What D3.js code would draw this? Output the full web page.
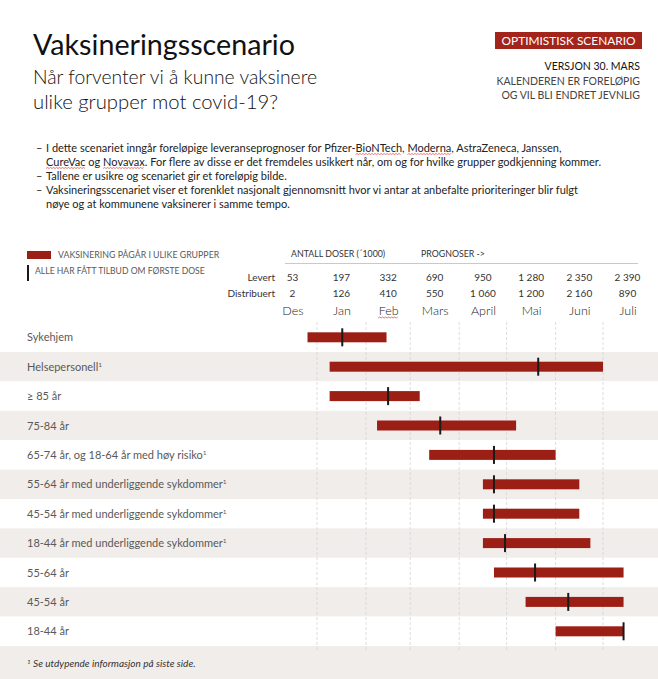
<!DOCTYPE html>
<html>
<head>
<meta charset="utf-8">
<script src="https://cdn.jsdelivr.net/npm/d3@7"></script>
<style>
  html, body { margin: 0; padding: 0; background: #fff; }
  svg { display: block; font-family: Lato, "Open Sans", sans-serif; }
</style>
</head>
<body>
<div id="chart"></div>
<script>
// ---------- data ----------
const months = ["Des", "Jan", "Feb", "Mars", "April", "Mai", "Juni", "Juli"];
const monthStarts = ["2020-12-01", "2021-01-01", "2021-02-01", "2021-03-01", "2021-04-01", "2021-05-01", "2021-06-01", "2021-07-01"];
const levert = ["53", "197", "332", "690", "950", "1 280", "2 350", "2 390"];
const distribuert = ["2", "126", "410", "550", "1 060", "1 200", "2 160", "890"];

const groups = ["Sykehjem", "Helsepersonell", "≥ 85 år", "75-84 år", "65-74 år, og 18-64 år med høy risiko",
  "55-64 år med underliggende sykdommer", "45-54 år med underliggende sykdommer",
  "18-44 år med underliggende sykdommer", "55-64 år", "45-54 år", "18-44 år"];
const footnoted = [false, true, false, false, true, true, true, true, false, false, false];
const startDates = ["2020-12-26", "2021-01-09", "2021-01-09", "2021-02-08", "2021-03-13", "2021-04-16", "2021-04-16", "2021-04-16", "2021-04-23", "2021-05-13", "2021-06-01"];
const endDates   = ["2021-02-14", "2021-07-01", "2021-03-07", "2021-05-07", "2021-06-01", "2021-06-16", "2021-06-16", "2021-06-23", "2021-07-14", "2021-07-14", "2021-07-14"];
const offerDates = ["2021-01-17", "2021-05-21", "2021-02-15", "2021-03-20", "2021-04-23", "2021-04-23", "2021-04-23", "2021-04-30", "2021-05-19", "2021-06-09", "2021-07-14"];

// bullet lines; words in {braces} carry a spell-check underline in the source
const bullets = [
  ["I dette scenariet inngår foreløpige leveranseprognoser for Pfizer-{BioNTech}, {Moderna}, AstraZeneca, Janssen,",
   "{CureVac} og {Novavax}. For flere av disse er det fremdeles usikkert når, om og for hvilke grupper godkjenning kommer."],
  ["Tallene er usikre og scenariet gir et foreløpig bilde."],
  ["Vaksineringsscenariet viser et forenklet nasjonalt gjennomsnitt hvor vi antar at anbefalte prioriteringer blir fulgt",
   "nøye og at kommunene vaksinerer i samme tempo."]
];

// ---------- setup ----------
const W = 658, H = 679;
const RED = "#9c1f16", TXT = "#595959", DARK = "#1a1a1a";
const parse = d3.timeParse("%Y-%m-%d");

const svg = d3.select("#chart").append("svg").attr("width", W).attr("height", H);

const x = d3.scaleTime()
  .domain([parse("2020-12-01"), parse("2021-08-01")])
  .range([268, 652]);

const y = d3.scaleBand().domain(groups).range([322.6, 646]).paddingInner(0).paddingOuter(0);

function squiggle(x0, x1, yb) {
  let p = `M${x0},${yb}`;
  let up = true;
  for (let xx = x0 + 1.5; xx <= x1; xx += 1.5) { p += `L${xx},${yb + (up ? -1 : 0)}`; up = !up; }
  svg.append("path").attr("d", p).attr("fill", "none").attr("stroke", "#e03c3c").attr("stroke-width", 0.7);
}

// ---------- titles ----------
svg.append("text").attr("x", 33).attr("y", 55).attr("font-size", 29).attr("font-weight", 400).attr("fill", "#111")
  .attr("textLength", 262).attr("lengthAdjust", "spacingAndGlyphs").text("Vaksineringsscenario");
svg.append("text").attr("x", 33).attr("y", 84).attr("font-size", 20).attr("font-weight", 300).attr("fill", "#111")
  .attr("textLength", 284).attr("lengthAdjust", "spacingAndGlyphs").text("Når forventer vi å kunne vaksinere");
svg.append("text").attr("x", 33).attr("y", 109).attr("font-size", 20).attr("font-weight", 300).attr("fill", "#111")
  .attr("textLength", 245).attr("lengthAdjust", "spacingAndGlyphs").text("ulike grupper mot covid-19?");

// badge
svg.append("rect").attr("x", 495).attr("y", 32).attr("width", 147).attr("height", 17).attr("fill", "#a3241b");
svg.append("text").attr("x", 568.5).attr("y", 45).attr("text-anchor", "middle").attr("font-size", 11.5)
  .attr("fill", "#fff").attr("textLength", 134).attr("lengthAdjust", "spacingAndGlyphs").text("OPTIMISTISK SCENARIO");

const rightLines = [["VERSJON 30. MARS", "#111", 70], ["KALENDEREN ER FORELØPIG", "#444", 85], ["OG VIL BLI ENDRET JEVNLIG", "#444", 99]];
svg.selectAll("text.rl").data(rightLines).join("text").attr("class", "rl")
  .attr("x", 640).attr("y", d => d[2]).attr("text-anchor", "end").attr("font-size", 10.5)
  .attr("fill", d => d[1]).text(d => d[0]);

// bullets
let by = 152;
const bulletG = svg.append("g").attr("font-size", 11).attr("fill", "#222");
bullets.forEach(lines => {
  bulletG.append("text").attr("x", 36).attr("y", by).text("–");
  lines.forEach(l => {
    const t = bulletG.append("text").attr("x", 46).attr("y", by);
    const parts = l.split(/(\{[^}]+\})/).filter(s => s.length);
    parts.forEach(pt => {
      if (pt.startsWith("{")) t.append("tspan").attr("class", "sq").text(pt.slice(1, -1));
      else t.append("tspan").text(pt);
    });
    const yb = by + 2.5;
    t.selectAll("tspan.sq").each(function () {
      const s = this.getStartPositionOfChar(0).x;
      const w = this.getComputedTextLength();
      squiggle(s, s + w, yb);
    });
    by += 14;
  });
});

// ---------- legend ----------
svg.append("rect").attr("x", 27).attr("y", 251).attr("width", 24).attr("height", 8).attr("fill", RED);
svg.append("text").attr("x", 58).attr("y", 258).attr("font-size", 8.8).attr("fill", TXT).text("VAKSINERING PÅGÅR I ULIKE GRUPPER");
svg.append("rect").attr("x", 27).attr("y", 265).attr("width", 2).attr("height", 16).attr("fill", DARK);
svg.append("text").attr("x", 35).attr("y", 274).attr("font-size", 8.6).attr("fill", TXT).text("ALLE HAR FÅTT TILBUD OM FØRSTE DOSE");

// ---------- dose table ----------
svg.append("text").attr("x", 291).attr("y", 257).attr("font-size", 8.8).attr("fill", "#333").text("ANTALL DOSER (´1000)");
svg.append("text").attr("x", 421).attr("y", 257).attr("font-size", 8.8).attr("fill", "#333").text("PROGNOSER ->");
svg.append("line").attr("x1", 285).attr("x2", 638).attr("y1", 263.5).attr("y2", 263.5)
  .attr("stroke", "#cfc8bd").attr("stroke-width", 1);

const mid = d => {
  const s = parse(d);
  const e = d3.timeMonth.offset(s, 1);
  return x(new Date((+s + +e) / 2));
};
svg.append("text").attr("x", 275).attr("y", 281).attr("text-anchor", "end").attr("font-size", 10).attr("fill", "#333").text("Levert");
svg.append("text").attr("x", 275).attr("y", 297).attr("text-anchor", "end").attr("font-size", 10).attr("fill", "#333").text("Distribuert");
svg.selectAll("text.lev").data(levert).join("text").attr("class", "lev")
  .attr("x", (d, i) => mid(monthStarts[i])).attr("y", 281).attr("text-anchor", "middle")
  .attr("font-size", 10).attr("fill", "#333").text(d => d);
svg.selectAll("text.dis").data(distribuert).join("text").attr("class", "dis")
  .attr("x", (d, i) => mid(monthStarts[i])).attr("y", 297).attr("text-anchor", "middle")
  .attr("font-size", 10).attr("fill", "#333").text(d => d);

// month labels via an axis on a scale keyed by month name
const monthPos = d3.scaleOrdinal().domain(months).range(monthStarts.map(mid));
const monthAxis = d3.axisTop(monthPos).tickSize(0).tickPadding(0);
const ax = svg.append("g").attr("transform", "translate(0,315)").call(monthAxis);
ax.select(".domain").remove();
ax.selectAll("text").attr("font-size", 12.5).attr("font-weight", 300).attr("fill", "#222")
  .attr("font-family", "Lato, sans-serif").attr("dy", 0);
// spell-check mark under "Feb"
ax.selectAll(".tick").filter(d => d === "Feb").each(function () {
  const bb = this.getBBox();
  const tx = monthPos("Feb");
  squiggle(tx + bb.x, tx + bb.x + bb.width, 318);
});

// ---------- row bands ----------
svg.selectAll("rect.band").data(groups).join("rect").attr("class", "band")
  .attr("x", 0).attr("width", W).attr("y", d => y(d)).attr("height", y.bandwidth())
  .attr("fill", (d, i) => i % 2 === 1 ? "#f1edea" : "#fff");
svg.append("rect").attr("x", 0).attr("width", W).attr("y", 646).attr("height", H - 646).attr("fill", "#f1edea");

// grid lines at month boundaries
const gridDates = monthStarts.slice(1).map(parse);
svg.selectAll("line.grid").data(gridDates).join("line").attr("class", "grid")
  .attr("x1", d => x(d)).attr("x2", d => x(d)).attr("y1", 322).attr("y2", 650)
  .attr("stroke", "#d4d4d4").attr("stroke-width", 0.8).attr("stroke-dasharray", "3,2");

// row labels
const lbl = svg.selectAll("text.rowlbl").data(groups).join("text").attr("class", "rowlbl")
  .attr("x", 27).attr("y", d => y(d) + y.bandwidth() / 2 + 4).attr("font-size", 11).attr("fill", TXT);
lbl.append("tspan").text(d => d);
lbl.filter((d, i) => footnoted[i]).append("tspan").attr("font-size", 6.5).attr("dy", -4).text("1");

// bars
const bh = 10;
svg.selectAll("rect.bar").data(groups).join("rect").attr("class", "bar")
  .attr("x", (d, i) => x(parse(startDates[i])))
  .attr("width", (d, i) => x(parse(endDates[i])) - x(parse(startDates[i])))
  .attr("y", d => y(d) + y.bandwidth() / 2 - bh / 2).attr("height", bh).attr("fill", RED);

// offer markers
svg.selectAll("rect.mk").data(groups).join("rect").attr("class", "mk")
  .attr("x", (d, i) => x(parse(offerDates[i])) - 1).attr("width", 2)
  .attr("y", d => y(d) + y.bandwidth() / 2 - 9).attr("height", 18).attr("fill", DARK);

// footnote
const fn = svg.append("text").attr("x", 27).attr("y", 667).attr("font-size", 10)
  .attr("font-style", "italic").attr("fill", "#333");
fn.append("tspan").attr("font-size", 6.5).attr("dy", -3).text("1");
fn.append("tspan").attr("dy", 3).text(" Se utdypende informasjon på siste side.");
</script>
</body>
</html>
